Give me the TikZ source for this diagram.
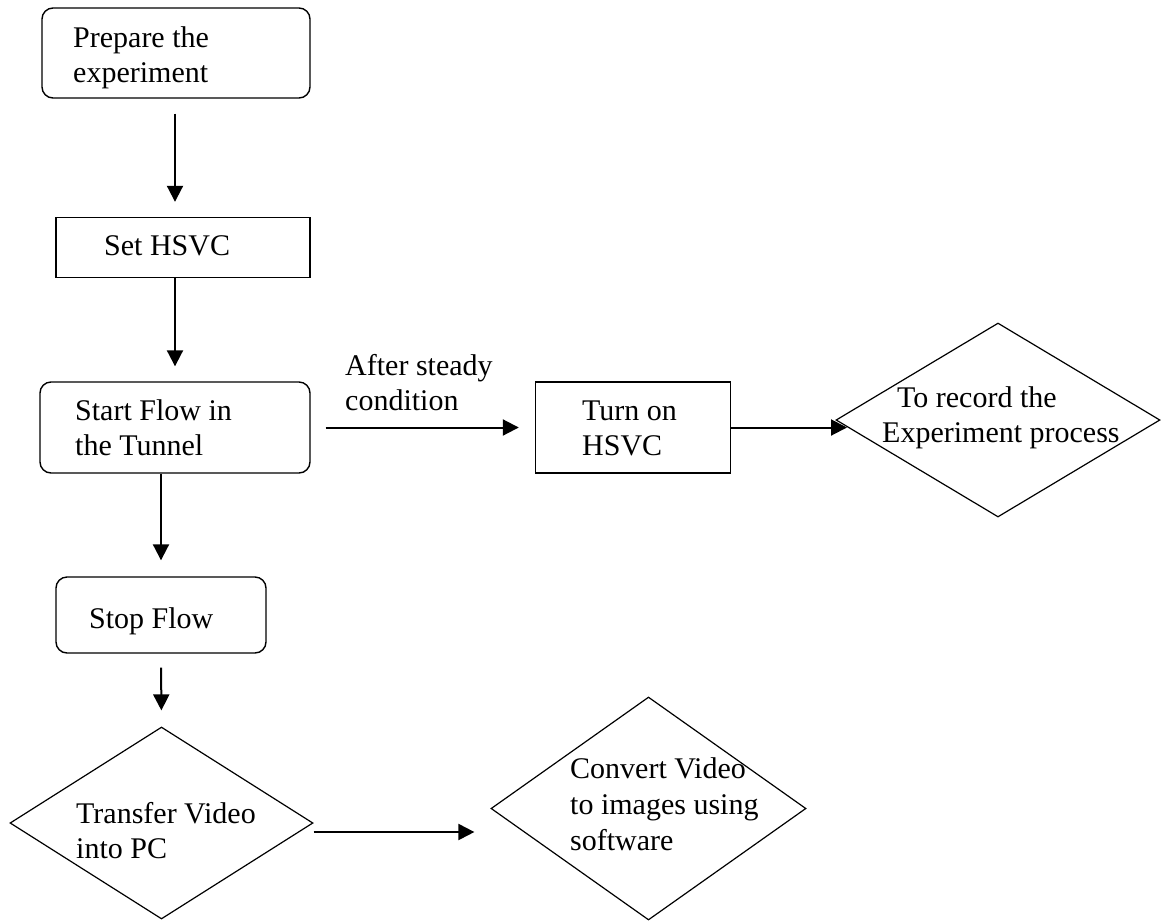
\documentclass[tikz,border=0pt]{standalone}
\usepackage{fontspec}
\setmainfont{Liberation Serif}
\usetikzlibrary{arrows.meta,shapes.geometric}
\tikzset{
  rbox/.style={draw, line width=1.4pt, rounded corners=11pt, inner sep=0pt},
  sbox/.style={draw, line width=1.4pt, inner sep=0pt},
  dbox/.style={draw, line width=1.2pt, shape=diamond, inner sep=0pt, aspect=1},
  txt/.style={inner sep=0pt, anchor=base west, font=\fontsize{30}{35}\selectfont},
  arr/.style={line width=2pt, -{Triangle[length=16pt,width=16pt]}}
}
\begin{document}
\begin{tikzpicture}[x=1pt,y=-1pt]
\useasboundingbox (0,0) rectangle (1163,922);
% shapes
\node[rbox, minimum width=268pt, minimum height=90pt] (prep) at (176,53) {};
\node[sbox, minimum width=254pt, minimum height=60pt] (set) at (183,247.5) {};
\node[rbox, minimum width=270pt, minimum height=91pt] (start) at (175,427.5) {};
\node[sbox, minimum width=195pt, minimum height=91pt] (turn) at (633,427.5) {};
\node[dbox, minimum width=324pt, minimum height=194pt] (rec) at (998,420) {};
\node[rbox, minimum width=210pt, minimum height=76pt] (stop) at (161,615) {};
\node[dbox, minimum width=303pt, minimum height=192pt] (trans) at (161.5,823) {};
\node[dbox, minimum width=315pt, minimum height=223pt] (conv) at (648.5,808.5) {};
% texts
\node[txt] (prepA) at (73,47) {Prepare the};
\node[txt] (prepB) at (73,82) {experiment};
\node[txt] (setA) at (104,255) {Set HSVC};
\node[txt] (startA) at (75,420) {Start Flow in};
\node[txt] (startB) at (75,455) {the Tunnel};
\node[txt] (lblA) at (345,375) {After steady};
\node[txt] (lblB) at (345,410) {condition};
\node[txt] (turnA) at (582,420) {Turn on};
\node[txt] (turnB) at (582,455) {HSVC};
\node[txt] (recA) at (897,407) {To record the};
\node[txt] (recB) at (882,442) {Experiment process};
\node[txt] (stopA) at (89,628) {Stop Flow};
\node[txt] (transA) at (76,823) {Transfer Video};
\node[txt] (transB) at (76,858) {into PC};
\node[txt] (convA) at (570,778) {Convert Video};
\node[txt] (convB) at (570,814) {to images using};
\node[txt] (convC) at (570,850) {software};
% connectors
\coordinate (recIn) at (847,427.5);
\draw[arr, shorten <=15pt, shorten >=15pt] ([xshift=-1pt]prep.south) -- ([xshift=-1pt]prep.south |- set.north);
\draw[arr, shorten >=15pt] ([xshift=-8pt]set.south) -- ([xshift=-8pt]set.south |- start.north);
\draw[arr, shorten >=16pt] (stop.north |- start.south) -- (stop.north);
\draw[arr, shorten <=14pt, shorten >=16pt] (stop.south) -- (trans.north);
\draw[arr, shorten <=15pt, shorten >=16pt] (start.east) -- (turn.west);
\draw[arr] (turn.east) -- (recIn);
\draw[arr, shorten >=16pt] ([yshift=-9pt]trans.east) -- ([yshift=-9pt]trans.east -| conv.west);
\end{tikzpicture}
\end{document}
